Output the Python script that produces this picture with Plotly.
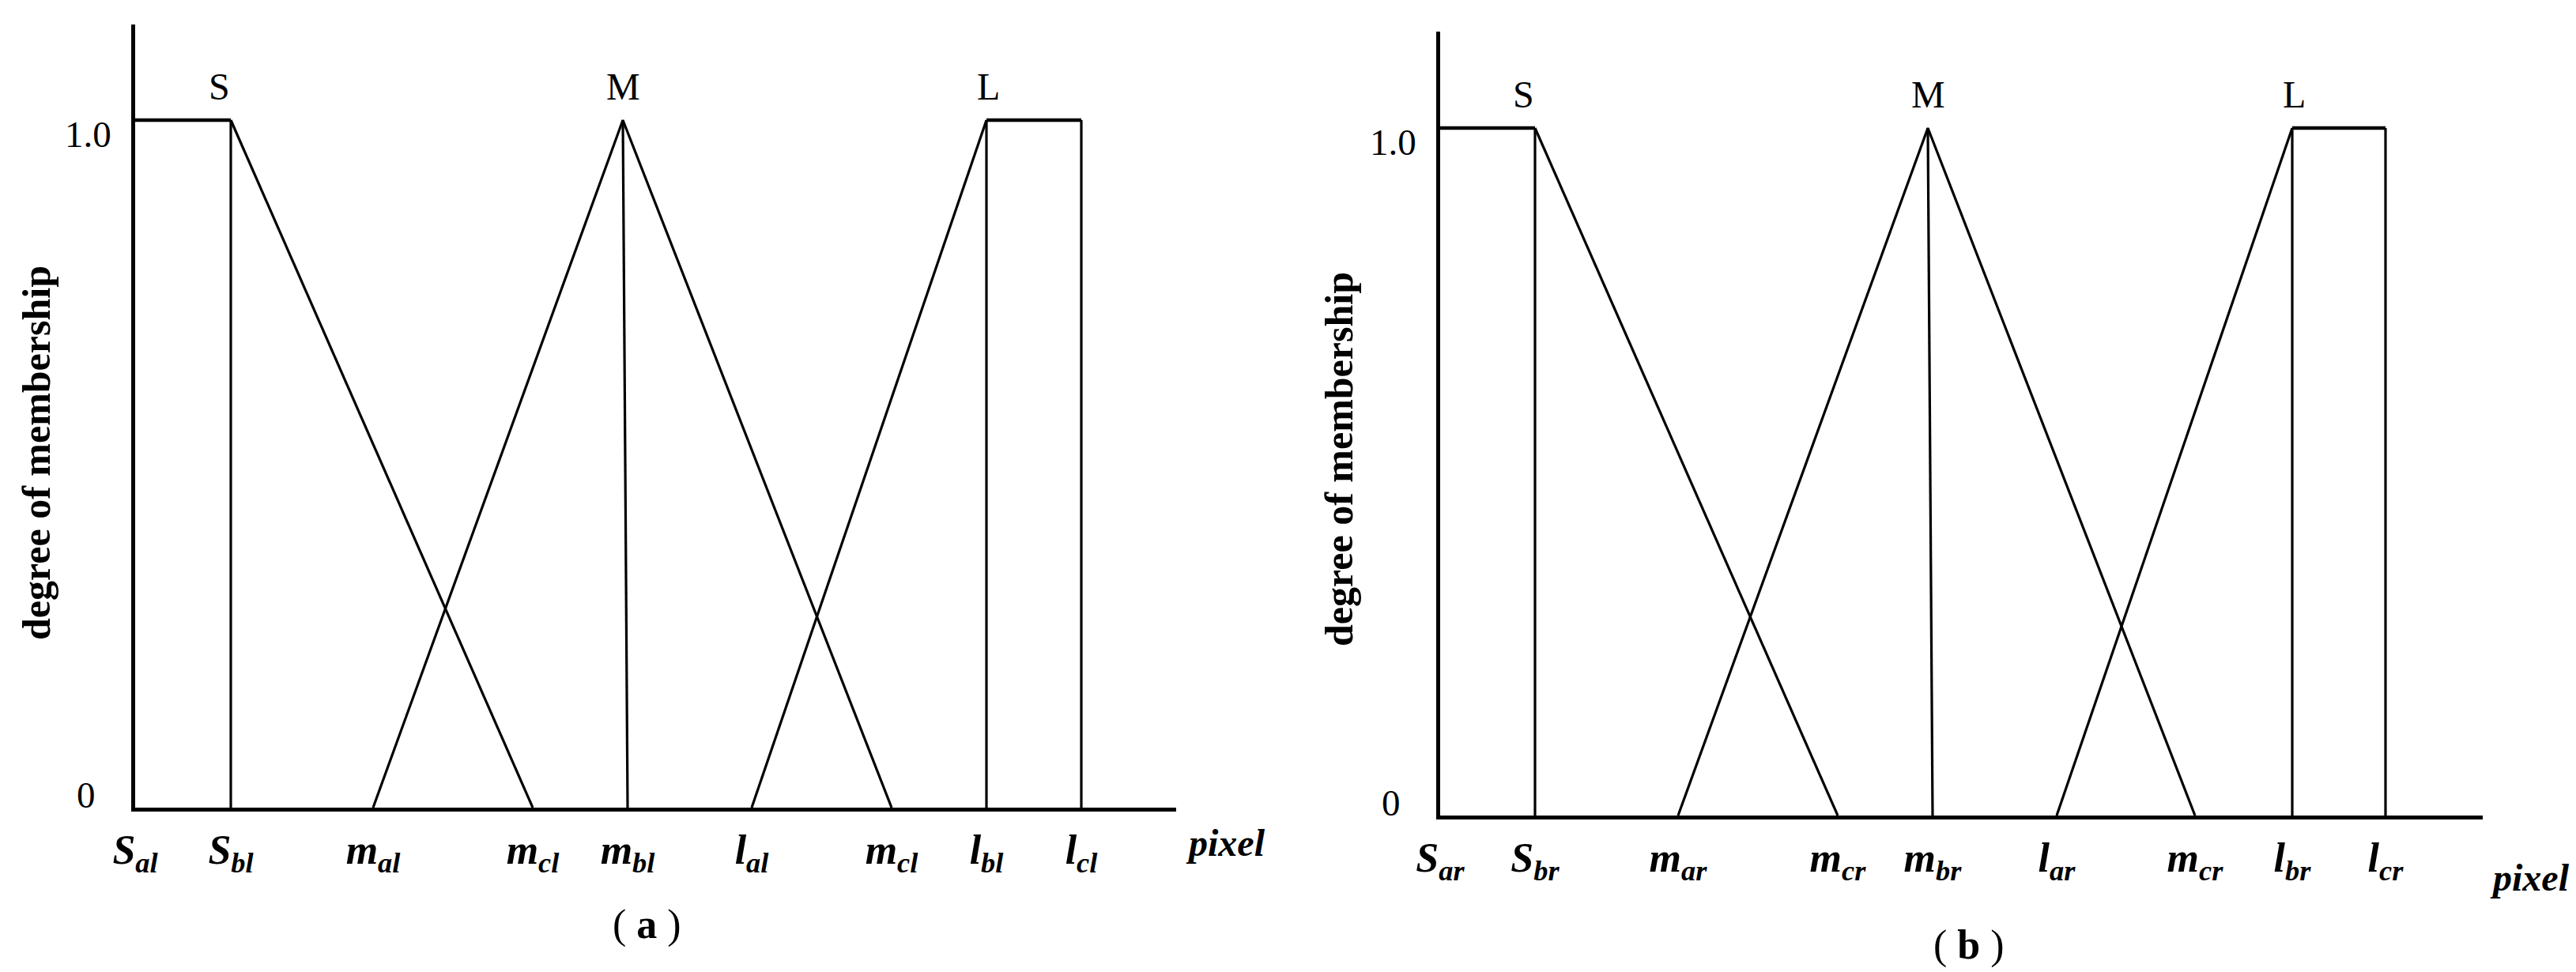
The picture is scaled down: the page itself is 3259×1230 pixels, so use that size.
"""
Fuzzy membership functions (S / M / L) for the left and right image halves.
Two side-by-side panels drawn with plain Plotly line traces.
"""
import plotly.graph_objects as go

W, H = 3259, 1230
SERIF = "Liberation Serif, Times New Roman, serif"

# breakpoints along the pixel axis: S_a, S_b, m_a, m_c, m_b, l_a, m_c, l_b, l_c
BREAKS_A = [0, 12.1, 30.1, 50.3, 62.3, 78.0, 95.7, 107.7, 119.7]
BREAKS_B = [0, 12.0, 30.1, 50.3, 62.3, 78.0, 95.5, 107.8, 119.6]
M_PEAK_A = 61.7
M_PEAK_B = 61.7
X_END_A = 131.7
X_END_B = 131.9

TICKS_A = ["S|al", "S|bl", "m|al", "m|cl", "m|bl", "l|al", "m|cl", "l|bl", "l|cl"]
TICKS_B = ["S|ar", "S|br", "m|ar", "m|cr", "m|br", "l|ar", "m|cr", "l|br", "l|cr"]

SET_NAMES = ["S", "M", "L"]
Y_TICKS = [0, 1.0]
Y_TICK_TEXT = ["0", "1.0"]


def sub_label(s):
    base, sub = s.split("|")
    return f"<b><i>{base}<sub>{sub}</sub></i></b>"


def membership_traces(b, peak, xa, ya):
    """S shoulder, M triangle and L shoulder built from the breakpoints."""
    line = dict(color="black", width=3.2)
    thick = dict(color="black", width=4.5)
    common = dict(mode="lines", xaxis=xa, yaxis=ya, hoverinfo="skip", showlegend=False)
    return [
        # S: plateau, drop at S_b, slope down to m_c
        go.Scatter(x=[b[0], b[1]], y=[1, 1], line=thick, **common),
        go.Scatter(x=[b[1], b[1], None, b[1], b[3]], y=[0, 1, None, 1, 0], line=line, **common),
        # M: triangle m_a -> peak -> m_c, plus the line up from m_b
        go.Scatter(x=[b[2], peak, b[6], None, b[4], peak], y=[0, 1, 0, None, 0, 1], line=line, **common),
        # L: rise to l_b, plateau to l_c
        go.Scatter(x=[b[5], b[7], None, b[7], b[7], None, b[8], b[8]],
                   y=[0, 1, None, 1, 0, None, 1, 0], line=line, **common),
        go.Scatter(x=[b[7], b[8]], y=[1, 1], line=thick, **common),
    ]


fig = go.Figure()
for tr in membership_traces(BREAKS_A, M_PEAK_A, "x", "y"):
    fig.add_trace(tr)
for tr in membership_traces(BREAKS_B, M_PEAK_B, "x2", "y2"):
    fig.add_trace(tr)

x_common = dict(
    showline=True, linecolor="black", linewidth=5, showgrid=False, zeroline=False,
    automargin=False, ticks="outside", ticklen=4, tickcolor="rgba(0,0,0,0)",
    tickfont=dict(family=SERIF, size=52, color="black"),
)
y_common = dict(
    showline=True, linecolor="black", linewidth=4.5, showgrid=False, zeroline=False,
    automargin=False, showticklabels=False, ticks="",
)

fig.update_layout(
    width=W, height=H,
    margin=dict(l=0, r=0, t=0, b=0, autoexpand=False),
    paper_bgcolor="white", plot_bgcolor="white",
    xaxis=dict(domain=[163 / W, 1480 / W], range=[0, X_END_A], anchor="y",
               tickvals=BREAKS_A, ticktext=[sub_label(t) for t in TICKS_A], **x_common),
    yaxis=dict(domain=[1 - 1014 / H, 1 - 23 / H], range=[0, 991 / 870], anchor="x", **y_common),
    xaxis2=dict(domain=[1814 / W, 3133 / W], range=[0, X_END_B], anchor="y2",
                tickvals=BREAKS_B, ticktext=[sub_label(t) for t in TICKS_B], **x_common),
    yaxis2=dict(domain=[1 - 1024 / H, 1 - 32 / H], range=[0, 992 / 870], anchor="x2", **y_common),
)

ann = []
# set names above each function
for (xa, ya, b, peak) in [("x", "y", BREAKS_A, M_PEAK_A), ("x2", "y2", BREAKS_B, M_PEAK_B)]:
    for name, xv in zip(SET_NAMES, [b[1] - 1.5, peak, b[7] + 0.2]):
        ann.append(dict(x=xv, y=1.0, xref=xa, yref=ya, text=name, showarrow=False,
                        xanchor="center", yanchor="bottom", yshift=14,
                        font=dict(family=SERIF, size=48, color="black")))
    # y tick labels
    for yv, txt, xs, ys in zip(Y_TICKS, Y_TICK_TEXT, [-48, -28], [16, -18]):
        ann.append(dict(x=0, y=yv, xref=xa, yref=ya, text=txt, showarrow=False,
                        xanchor="right", yanchor="middle", xshift=xs, yshift=ys,
                        font=dict(family=SERIF, size=47, color="black")))

# axis titles and panel captions, placed in paper pixels
for px_x, px_y in [(38, 565), (1686, 573)]:
    ann.append(dict(x=px_x / W, y=1 - px_y / H, xref="paper", yref="paper",
                    xanchor="center", yanchor="middle",
                    text="<b>degree of membership</b>", textangle=-90, showarrow=False,
                    font=dict(family=SERIF, size=50, color="black")))
for px_x, px_y in [(1542, 1058), (3192, 1102)]:
    ann.append(dict(x=px_x / W, y=1 - px_y / H, xref="paper", yref="paper",
                    xanchor="center", yanchor="middle",
                    text="<b><i>pixel</i></b>", showarrow=False,
                    font=dict(family=SERIF, size=48, color="black")))
for px_x, px_y, tag in [(810, 1162, "a"), (2483, 1188, "b")]:
    ann.append(dict(x=px_x / W, y=1 - px_y / H, xref="paper", yref="paper",
                    xanchor="center", yanchor="middle",
                    text=f"( <b>{tag}</b> )", showarrow=False,
                    font=dict(family=SERIF, size=52, color="black")))

fig.update_layout(annotations=ann)
fig.write_html("out.html")
